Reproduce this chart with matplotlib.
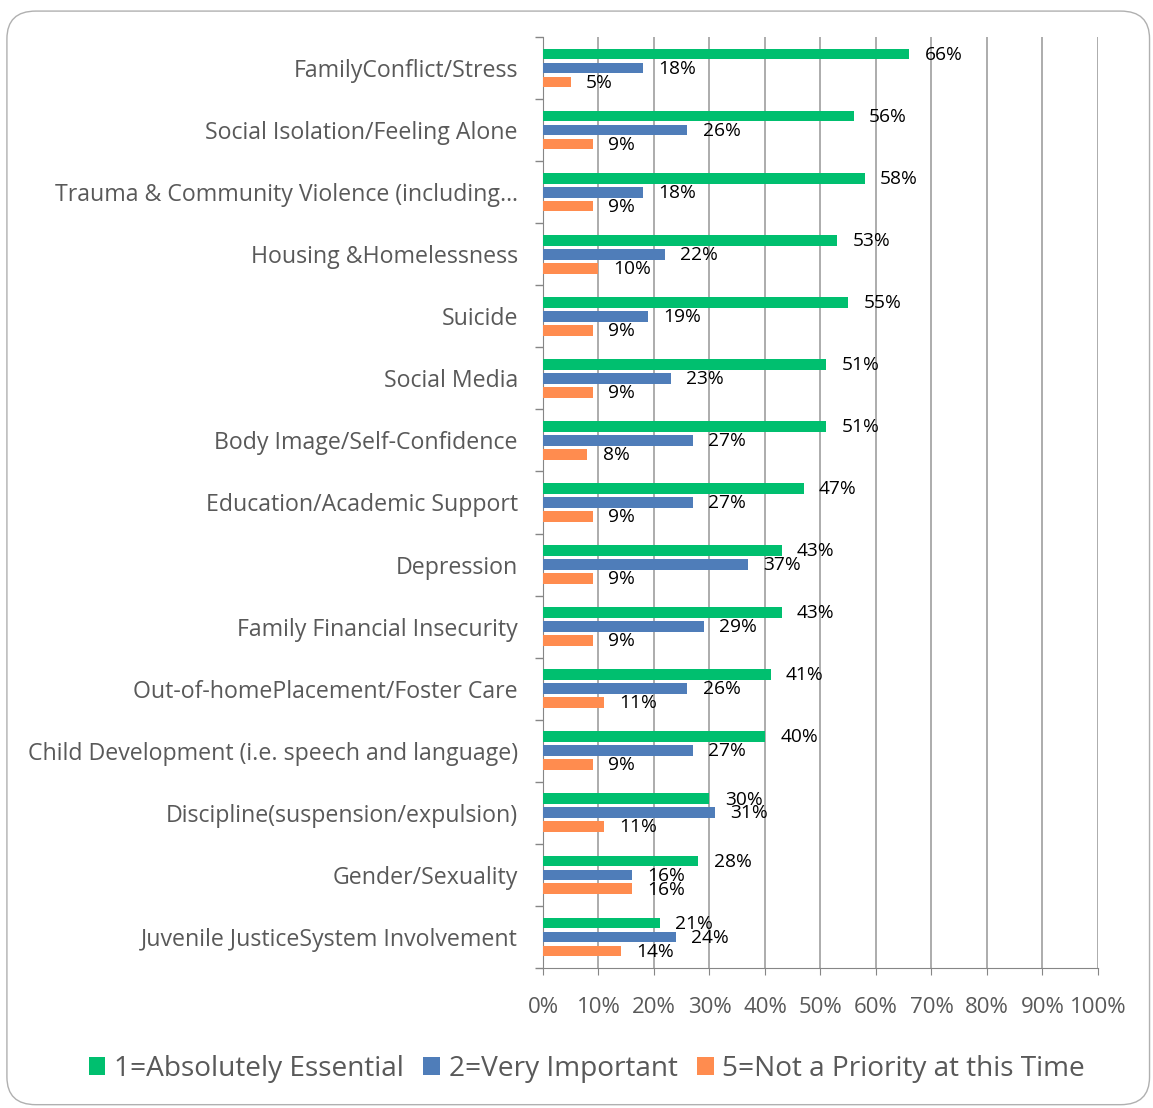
import matplotlib.pyplot as plt
import numpy as np
from matplotlib.patches import FancyBboxPatch, Patch

plt.rcParams['font.family'] = ['Open Sans', 'DejaVu Sans']

categories = [
    "FamilyConflict/Stress",
    "Social Isolation/Feeling Alone",
    "Trauma & Community Violence (including\u2026",
    "Housing &Homelessness",
    "Suicide",
    "Social Media",
    "Body Image/Self-Confidence",
    "Education/Academic Support",
    "Depression",
    "Family Financial Insecurity",
    "Out-of-homePlacement/Foster Care",
    "Child Development (i.e. speech and language)",
    "Discipline(suspension/expulsion)",
    "Gender/Sexuality",
    "Juvenile JusticeSystem Involvement",
]
essential = [66, 56, 58, 53, 55, 51, 51, 47, 43, 43, 41, 40, 30, 28, 21]
important = [18, 26, 18, 22, 19, 23, 27, 27, 37, 29, 26, 27, 31, 16, 24]
not_priority = [5, 9, 9, 10, 9, 9, 8, 9, 9, 9, 11, 9, 11, 16, 14]

series = [
    ("1=Absolutely Essential", essential, "#00BF6F"),
    ("2=Very Important", important, "#4F7DB9"),
    ("5=Not a Priority at this Time", not_priority, "#FF8C4F"),
]

fig = plt.figure(figsize=(11.53, 11.08), dpi=100)

# rounded frame around the chart area, kept behind the axes
frame = FancyBboxPatch((0.006, 0.003), 0.991, 0.987, boxstyle="round,pad=0,rounding_size=0.025",
                       transform=fig.transFigure, facecolor="white", edgecolor="#b0b0b0",
                       lw=1.0, zorder=-10)
fig.patches.append(frame)

ax = fig.add_axes([0.4709, 0.1264, 0.4814, 0.8402])
ax.set_facecolor("none")

y = np.arange(len(categories))
step = 0.225
height = 0.172
for i, (name, vals, col) in enumerate(series):
    pos = y + (i - 1) * step
    ax.barh(pos, np.array(vals) / 100, height=height, color=col, label=name, zorder=3)
    for p, v in zip(pos, vals):
        ax.annotate(f"{v}%", (v / 100, p), xytext=(11, -0.5), textcoords="offset points",
                    ha="left", va="center", fontsize=13.8, color="black", zorder=4)

ax.set_ylim(len(categories) - 0.5, -0.5)
ax.set_xlim(0, 1)
ax.set_yticks(y)
ax.set_yticklabels(categories, fontsize=16.7, color="#595959")
ax.set_yticks(np.arange(len(categories) + 1) - 0.5, minor=True)
ax.tick_params(axis="y", which="major", length=0, pad=18)
ax.tick_params(axis="y", which="minor", length=6, color="#868686", width=1)

ax.set_xticks(np.arange(0, 1.01, 0.1))
ax.set_xticklabels([f"{int(round(t * 100))}%" for t in np.arange(0, 1.01, 0.1)],
                   fontsize=16, color="#595959")
ax.tick_params(axis="x", length=5, color="#868686", pad=16)
ax.grid(axis="x", color="#a6a6a6", lw=1.3, zorder=0)

for s in ["top", "right"]:
    ax.spines[s].set_visible(False)
ax.spines["left"].set_color("#868686")
ax.spines["bottom"].set_color("#868686")

handles = [Patch(facecolor=c, label=n) for n, _, c in series]
fig.legend(handles=handles, loc="center", bbox_to_anchor=(0.509, 0.035), ncol=3,
           frameon=False, fontsize=20.2, labelcolor="#595959", handlelength=0.6,
           handleheight=0.6, handletextpad=0.3, columnspacing=0.7)

fig.savefig("out.png", dpi=100)
